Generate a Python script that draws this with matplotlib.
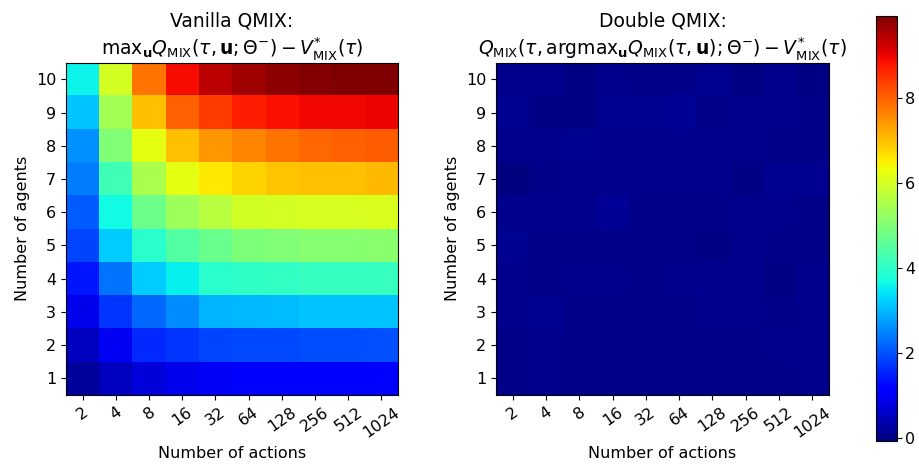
import numpy as np
import matplotlib
matplotlib.use("Agg")
import matplotlib.pyplot as plt

# etiquetas de los ejes
actions = ["2", "4", "8", "16", "32", "64", "128", "256", "512", "1024"]
agents = ["1", "2", "3", "4", "5", "6", "7", "8", "9", "10"]

# Vanilla QMIX (fila 0 = 1 agente ... fila 9 = 10 agentes)
vanilla = np.array([
    [0.20, 0.50, 0.75, 0.90, 1.00, 1.05, 1.05, 1.05, 1.10, 1.10],
    [0.50, 0.95, 1.60, 1.70, 1.85, 1.90, 1.90, 1.95, 1.95, 2.00],
    [0.90, 1.70, 2.20, 2.55, 2.95, 3.00, 3.05, 3.10, 3.10, 3.10],
    [1.40, 2.35, 3.20, 3.55, 3.95, 4.00, 4.05, 4.10, 4.10, 4.10],
    [1.85, 3.20, 3.95, 4.45, 4.70, 4.95, 5.00, 5.05, 5.05, 5.10],
    [2.10, 3.65, 4.75, 5.35, 5.65, 5.95, 6.00, 6.05, 6.05, 6.10],
    [2.40, 4.20, 5.50, 6.20, 6.55, 6.80, 6.95, 7.00, 7.00, 7.05],
    [2.60, 5.00, 6.20, 7.00, 7.40, 7.60, 7.80, 7.90, 8.00, 8.05],
    [3.10, 5.40, 7.00, 8.00, 8.40, 8.70, 8.85, 8.92, 8.95, 8.97],
    [3.60, 6.00, 7.80, 8.90, 9.40, 9.65, 9.80, 9.88, 9.91, 9.93],
])

# Double QMIX
double = np.array([
    [0.04, 0.05, 0.02, 0.03, 0.03, 0.03, 0.03, 0.03, 0.04, 0.05],
    [0.01, 0.05, 0.04, 0.02, 0.02, 0.03, 0.03, 0.02, 0.06, 0.07],
    [0.05, 0.10, 0.03, 0.03, 0.01, 0.04, 0.07, 0.07, 0.03, 0.05],
    [0.05, 0.02, 0.05, 0.05, 0.04, 0.05, 0.05, 0.05, -0.02, 0.05],
    [0.10, 0.04, 0.04, 0.04, 0.04, 0.03, -0.01, 0.06, 0.03, 0.04],
    [0.08, 0.05, 0.07, 0.15, 0.03, 0.03, 0.03, 0.07, 0.07, 0.04],
    [-0.07, 0.03, 0.08, 0.05, 0.05, 0.08, 0.07, 0.00, 0.12, 0.12],
    [0.07, 0.05, 0.10, 0.07, 0.05, 0.08, 0.08, 0.05, 0.03, 0.03],
    [0.12, 0.00, -0.03, 0.10, 0.10, 0.15, 0.03, 0.07, 0.08, 0.03],
    [0.05, 0.05, -0.03, 0.05, 0.03, 0.03, 0.10, 0.00, 0.07, -0.02],
])

vmin = min(vanilla.min(), double.min())
vmax = max(vanilla.max(), double.max())

fig = plt.figure(figsize=(9.19, 4.68), dpi=100)
ax1 = fig.add_axes([0.0718, 0.1560, 0.3613, 0.7100])
ax2 = fig.add_axes([0.5397, 0.1560, 0.3624, 0.7100])
cax = fig.add_axes([0.9530, 0.0583, 0.0235, 0.9085])

titles = [
    "Vanilla QMIX:\n"
    r"$\mathrm{max}_{\mathbf{u}}Q_{\mathrm{MIX}}(\tau, \mathbf{u}; \Theta^{-}) - V^{*}_{\mathrm{MIX}}(\tau)$",
    "Double QMIX:\n"
    r"$Q_{\mathrm{MIX}}(\tau, \mathrm{argmax}_{\mathbf{u}}Q_{\mathrm{MIX}}(\tau, \mathbf{u}); \Theta^{-}) - V^{*}_{\mathrm{MIX}}(\tau)$",
]

for ax, data, title in zip([ax1, ax2], [vanilla, double], titles):
    im = ax.imshow(data, cmap="jet", origin="lower", vmin=vmin, vmax=vmax, aspect="auto")
    ax.set_xticks(range(len(actions)))
    ax.set_xticklabels(actions, rotation=35, fontsize=11.5)
    ax.set_yticks(range(len(agents)))
    ax.set_yticklabels(agents, fontsize=11.5)
    ax.set_xlabel("Number of actions", fontsize=11.5)
    ax.set_ylabel("Number of agents", fontsize=11.5)
    ax.set_title(title, fontsize=13.5)

cb = fig.colorbar(im, cax=cax, ticks=[0, 2, 4, 6, 8])
cb.ax.tick_params(labelsize=11.5, pad=2)

plt.savefig("out.png", dpi=100)
